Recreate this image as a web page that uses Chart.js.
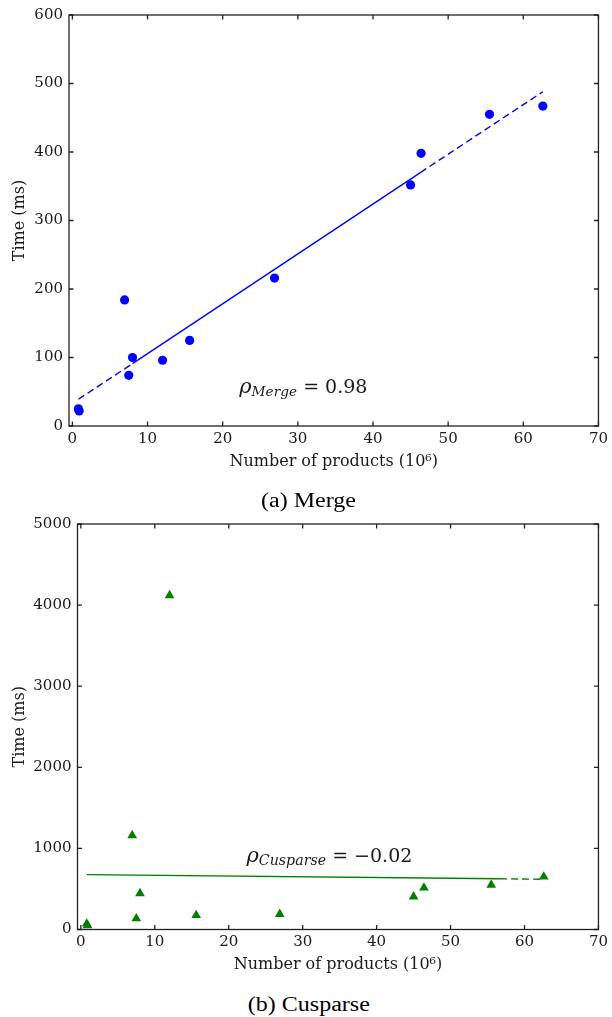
<!DOCTYPE html>
<html><head><meta charset="utf-8">
<script src="https://cdn.jsdelivr.net/npm/chart.js@4.4.0/dist/chart.umd.min.js"></script>
<style>
html,body{margin:0;padding:0;background:#fff;}
#wrap{position:relative;width:612px;height:1017px;overflow:hidden;}
canvas{position:absolute;left:0;}
#c1{top:0;} #c2{top:500px;}
.cap{position:absolute;left:3px;width:612px;text-align:center;font-family:'Liberation Serif';font-size:20px;line-height:24px;color:#000;}
.cap span{display:inline-block;transform:scaleX(1.2);}
#cap1{top:488px;} #cap2{top:992px;}
</style></head><body>
<div id="wrap">
<canvas id="c1" width="612" height="485"></canvas>
<canvas id="c2" width="612" height="485"></canvas>
<div class="cap" id="cap1"><span>(a) Merge</span></div>
<div class="cap" id="cap2"><span>(b) Cusparse</span></div>
</div>
<script>
// ---- data ----
const productsX = [0.8, 0.9, 6.95, 8.0, 7.5, 12.0, 15.6, 26.9, 45.0, 46.4, 55.5, 62.6];
const mergeTime = [25, 22, 184, 100, 74, 96, 125, 216, 352, 398, 455, 467];
const cusparseTime = [70, 50, 1160, 445, 135, 4120, 175, 190, 405, 515, 550, 650];
const mergeFitX = [0.8, 8.0, 46.3, 62.6];
const mergeFitY = [39, 91, 370, 488];
const cusparseFitX = [0.8, 56.7, 62.6];
const cusparseFitY = [677, 625, 620];
const xTicks = [0, 10, 20, 30, 40, 50, 60, 70];
const mergeYTicks = [0, 100, 200, 300, 400, 500, 600];
const cusparseYTicks = [0, 1000, 2000, 3000, 4000, 5000];

Chart.defaults.font.family = '"DejaVu Serif", serif';
const TXT = '#1a1a1a';

const pts = (xs, ys) => xs.map((x, i) => ({x, y: ys[i]}));

const framePlugin = {
  id: 'frame',
  afterDatasetsDraw(chart) {
    const {ctx, chartArea: a, scales: {x, y}} = chart;
    ctx.save();
    ctx.strokeStyle = '#222';
    ctx.lineWidth = 1.3;
    ctx.strokeRect(a.left, a.top, a.right - a.left, a.bottom - a.top);
    const L = 4.5;
    ctx.beginPath();
    x.ticks.forEach(t => {
      const p = x.getPixelForValue(t.value);
      ctx.moveTo(p, a.bottom); ctx.lineTo(p, a.bottom - L);
      ctx.moveTo(p, a.top); ctx.lineTo(p, a.top + L);
    });
    y.ticks.forEach(t => {
      const p = y.getPixelForValue(t.value);
      ctx.moveTo(a.left, p); ctx.lineTo(a.left + L, p);
      ctx.moveTo(a.right, p); ctx.lineTo(a.right - L, p);
    });
    ctx.stroke();
    ctx.restore();
  }
};

function annPlugin(ann) {
  return {
    id: 'ann',
    afterDatasetsDraw(chart) {
      const {ctx, scales: {x, y}} = chart;
      const px = x.getPixelForValue(ann.x), py = y.getPixelForValue(ann.y);
      ctx.save();
      ctx.fillStyle = TXT; ctx.textBaseline = 'alphabetic'; ctx.textAlign = 'left';
      ctx.font = 'italic 21px "DejaVu Serif"';
      ctx.fillText('ρ', px, py);
      let w = ctx.measureText('ρ').width;
      ctx.font = 'italic ' + ann.subSize + 'px "DejaVu Serif"';
      ctx.fillText(ann.sub, px + w, py + 3);
      w += ctx.measureText(ann.sub).width;
      ctx.font = '19px "DejaVu Serif"';
      ctx.fillText(ann.rest, px + w, py);
      ctx.restore();
    }
  };
}

function makeChart(id, c) {
  return new Chart(document.getElementById(id), {
    type: 'scatter',
    data: {datasets: [
      {data: pts(c.fitX, c.fitY), showLine: true, borderColor: c.color, borderWidth: 1.4,
       pointRadius: 0, order: 0, fill: false,
       segment: {borderDash: s => c.dashed.includes(s.p0DataIndex) ? [7, 4] : []}},
      {data: pts(productsX, c.ys), pointStyle: c.style, pointRadius: c.r,
       backgroundColor: c.color, borderColor: c.color, borderWidth: 0, order: 1}
    ]},
    options: {
      responsive: false, animation: false, events: [],
      layout: {padding: {left: 0, right: 12, top: c.top, bottom: 0}},
      plugins: {legend: {display: false}, tooltip: {enabled: false}},
      scales: {
        x: {type: 'linear', min: -0.45, max: 70,
            afterBuildTicks: s => { s.ticks = xTicks.map(v => ({value: v})); },
            ticks: {padding: 4, font: {size: 15}, color: TXT, maxRotation: 0, callback: v => String(v)},
            grid: {display: false, drawTicks: false}, border: {display: false},
            title: {display: true, text: 'Number of products (10⁶)', font: {size: 16}, color: TXT,
                    padding: {top: 0, bottom: c.xTitlePad}},
            afterFit: s => { s.height = c.xh; }},
        y: {type: 'linear', min: 0, max: c.yTicks[c.yTicks.length - 1],
            afterBuildTicks: s => { s.ticks = c.yTicks.map(v => ({value: v})); },
            ticks: {padding: 6, font: {size: 15}, color: TXT, callback: v => String(v)},
            grid: {display: false, drawTicks: false}, border: {display: false},
            title: {display: true, text: 'Time (ms)', font: {size: 16}, color: TXT,
                    padding: {top: 10.4, bottom: 0}},
            afterFit: s => { s.width = c.yw; }}
      }
    },
    plugins: [framePlugin, annPlugin(c.ann)]
  });
}

makeChart('c1', {
  ys: mergeTime, fitX: mergeFitX, fitY: mergeFitY, dashed: [0, 2], color: '#0000ff',
  style: 'circle', r: 4.6, yTicks: mergeYTicks, top: 15, xh: 59, yw: 69, xTitlePad: 13.4,
  ann: {x: 22.2, y: 48, sub: 'Merge', subSize: 13.7, rest: ' = 0.98'}
});
makeChart('c2', {
  ys: cusparseTime, fitX: cusparseFitX, fitY: cusparseFitY, dashed: [1], color: '#008000',
  style: 'triangle', r: 5.6, yTicks: cusparseYTicks, top: 24, xh: 55.5, yw: 77.5, xTitlePad: 10.4,
  ann: {x: 22.4, y: 837, sub: 'Cusparse', subSize: 14.2, rest: ' = \u22120.02'}
});
</script>
</body></html>
